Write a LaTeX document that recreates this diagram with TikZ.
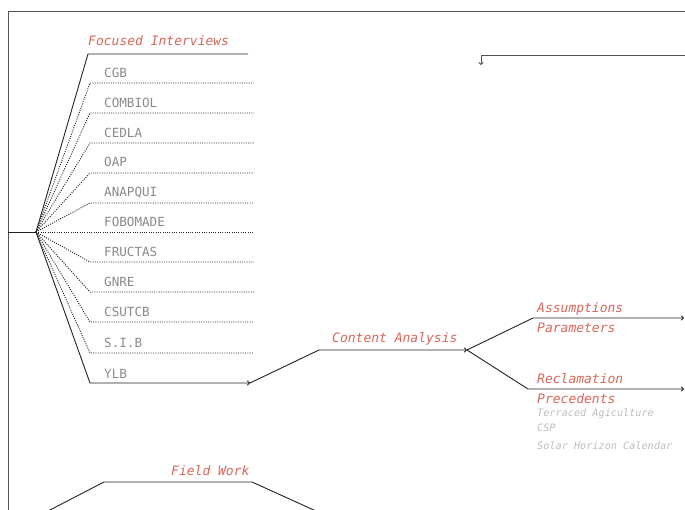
\documentclass[tikz,border=0pt]{standalone}
\usepackage{fontspec}
\setmonofont{DejaVu Sans Mono}
\usetikzlibrary{arrows.meta}
\definecolor{redlab}{HTML}{D8665A}
\definecolor{graylab}{HTML}{8A8A8A}
\definecolor{lightlab}{HTML}{BDBDBD}
\definecolor{linec}{HTML}{222222}
\definecolor{framec}{HTML}{555555}
\tikzset{
  head/.style={anchor=base west, inner sep=0pt, text=redlab, font=\ttfamily\itshape\fontsize{13}{13}\selectfont},
  item/.style={anchor=base west, inner sep=0pt, text=graylab, font=\ttfamily\fontsize{12.6}{12.6}\selectfont},
  small/.style={anchor=base west, inner sep=0pt, text=lightlab, font=\ttfamily\itshape\fontsize{10.2}{10.2}\selectfont},
  solidln/.style={draw=linec, line width=0.9pt},
  dotln/.style={draw=linec, line width=0.9pt, dash pattern=on 1pt off 1.3pt},
  arr/.style={-{To[length=3pt,width=5pt]}},
}
\begin{document}
\begin{tikzpicture}[x=1pt,y=-1pt]
\useasboundingbox (0,0) rectangle (685,510);
\clip (0,0) rectangle (685,510);
% frame
\draw[framec, line width=0.9pt] (8,520) -- (8,11) -- (700,11);
% coordinates
\coordinate (root) at (8,232);
\coordinate (hub) at (36,232);
\coordinate (fiA) at (88,54);
\coordinate (fiB) at (248,54);
\foreach \n/\y in {cgb/83,combiol/113,cedla/143,oap/173,anapqui/203,fobomade/232,fructas/262,gnre/292,csutcb/322,sib/353}{
  \coordinate (\n A) at (90,\y);
  \coordinate (\n B) at (254,\y);
}
\coordinate (ylbA) at (90,383);
\coordinate (ylbB) at (250,383);
\coordinate (caA) at (319,350);
\coordinate (caB) at (467,350);
\coordinate (asA) at (533,318);
\coordinate (asB) at (684,318);
\coordinate (reA) at (528,389);
\coordinate (reB) at (684,389);
\coordinate (fw0) at (48,511);
\coordinate (fwA) at (104,482);
\coordinate (fwB) at (252,482);
\coordinate (fw1) at (316,511);
\coordinate (trA) at (690,55);
\coordinate (trB) at (481,55);
\coordinate (trC) at (481,65);
% connectors
\draw[solidln] (root) -- (hub);
\draw[solidln] (hub) -- (fiA) -- (fiB);
\foreach \n in {cgb,combiol,cedla,oap,anapqui,fobomade,fructas,gnre,csutcb,sib}{
  \draw[dotln] (hub) -- (\n A) -- (\n B);
}
\draw[solidln, arr] (hub) -- (ylbA) -- (ylbB);
\draw[solidln, arr] (ylbB) -- (caA) -- (caB);
\draw[solidln, arr] (caB) -- (asA) -- (asB);
\draw[solidln, arr] (caB) -- (reA) -- (reB);
\draw[solidln] (fw0) -- (fwA) -- (fwB) -- (fw1);
\draw[draw=framec, line width=0.9pt, arr] (trA) -- (trB) -- (trC);
% labels
\node[head] (lfi) at (88,46) {Focused Interviews};
\node[item] (lcgb) at (104,78) {CGB};
\node[item] (lcombiol) at (104,108) {COMBIOL};
\node[item] (lcedla) at (104,138) {CEDLA};
\node[item] (loap) at (104,167) {OAP};
\node[item] (lanapqui) at (104,197) {ANAPQUI};
\node[item] (lfobomade) at (104,227) {FOBOMADE};
\node[item] (lfructas) at (104,257) {FRUCTAS};
\node[item] (lgnre) at (104,287) {GNRE};
\node[item] (lcsutcb) at (104,317) {CSUTCB};
\node[item] (lsib) at (104,348) {S.I.B};
\node[item] (lylb) at (104,378) {YLB};
\node[head] (lca) at (332,342) {Content Analysis};
\node[head] (las) at (537,313) {Assumptions};
\node[head] (lpa) at (537,333) {Parameters};
\node[head] (lre) at (537,383) {Reclamation};
\node[head] (lpr) at (537,403) {Precedents};
\node[small] (lta) at (537,416) {Terraced Agiculture};
\node[small] (lcsp) at (537,431) {CSP};
\node[small] (lshc) at (537,449) {Solar Horizon Calendar};
\node[head] (lfw) at (171,475) {Field Work};
\end{tikzpicture}
\end{document}
